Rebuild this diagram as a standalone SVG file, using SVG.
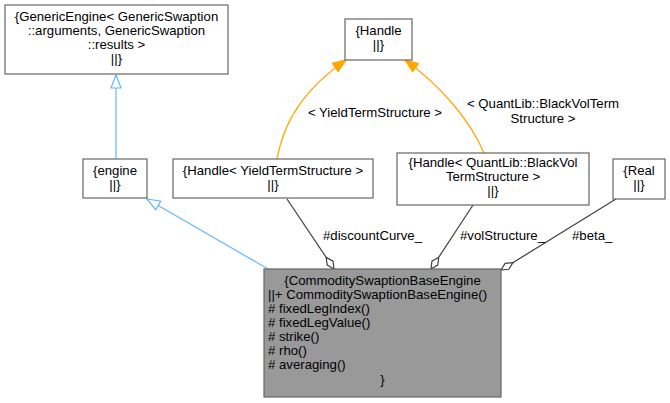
<svg xmlns="http://www.w3.org/2000/svg" width="670" height="403" viewBox="0 0 670 403">
<style>
text{font-family:"Liberation Sans",Arial,sans-serif;font-size:13.2px;fill:#000}
.c{text-anchor:middle}
.box{fill:#fff;stroke:#666;stroke-width:1.2}
.main{fill:#999;stroke:#666;stroke-width:1.2}
.inh{fill:none;stroke:#63b8ff;stroke-width:1.2}
.tpl{fill:none;stroke:#ffa500;stroke-width:1.2}
.use{fill:none;stroke:#404040;stroke-width:1.2}
</style>
<defs>
<marker id="tri" markerUnits="userSpaceOnUse" viewBox="0 0 15 12" refX="14" refY="6" markerWidth="15" markerHeight="12" orient="auto">
<path d="M1,1 L14,6 L1,11 Z" fill="#fff" stroke="#63b8ff" stroke-width="1.2"/>
</marker>
<marker id="arr" markerUnits="userSpaceOnUse" viewBox="0 0 15 12" refX="14" refY="6" markerWidth="15" markerHeight="12" orient="auto">
<path d="M1,1 L14,6 L1,11 Z" fill="#ffa500" stroke="#ffa500" stroke-width="1.2"/>
</marker>
<marker id="dia" markerUnits="userSpaceOnUse" viewBox="0 0 16 10" refX="15" refY="5" markerWidth="16" markerHeight="10" orient="auto">
<path d="M1,5 L8,1.5 L15,5 L8,8.5 Z" fill="#fff" stroke="#404040" stroke-width="1.2"/>
</marker>
</defs>
<g id="edges">
<path class="inh" d="M116,159 L116,75" marker-end="url(#tri)"/>
<path class="inh" d="M268,269 L147,199" marker-end="url(#tri)"/>
<path class="tpl" d="M277,159 C285,115 310,85 346,60" marker-end="url(#arr)"/>
<path class="tpl" d="M484,153 C470,120 440,85 405,60" marker-end="url(#arr)"/>
<path class="use" d="M287,199 L334,269" marker-end="url(#dia)"/>
<path class="use" d="M473,205 L431,269" marker-end="url(#dia)"/>
<path class="use" d="M616,199 L501,270" marker-end="url(#dia)"/>
<text class="c" x="375" y="117">&lt; YieldTermStructure &gt;</text>
<text class="c" x="543" y="108">&lt; QuantLib::BlackVolTerm</text>
<text class="c" x="543" y="123">Structure &gt;</text>
<text x="323" y="240">#discountCurve_</text>
<text x="460" y="240">#volStructure_</text>
<text x="572" y="240">#beta_</text>
</g>
<g id="node-genericengine">
<rect class="box" x="5" y="5" width="223" height="69"/>
<text class="c" x="116.5" y="21">{GenericEngine&lt; GenericSwaption</text>
<text class="c" x="116.5" y="35">::arguments, GenericSwaption</text>
<text class="c" x="116.5" y="49">::results &gt;</text>
<text class="c" x="116.5" y="63">||}</text>
</g>
<g id="node-handle">
<rect class="box" x="345" y="19" width="67" height="41"/>
<text class="c" x="378.5" y="35">{Handle</text>
<text class="c" x="378.5" y="49">||}</text>
</g>
<g id="node-engine">
<rect class="box" x="83" y="159" width="64" height="39"/>
<text class="c" x="115" y="175">{engine</text>
<text class="c" x="115" y="189">||}</text>
</g>
<g id="node-handle-yield">
<rect class="box" x="173" y="159" width="200" height="39"/>
<text class="c" x="273" y="175">{Handle&lt; YieldTermStructure &gt;</text>
<text class="c" x="273" y="189">||}</text>
</g>
<g id="node-handle-blackvol">
<rect class="box" x="397" y="153" width="192" height="52"/>
<text class="c" x="493" y="167">{Handle&lt; QuantLib::BlackVol</text>
<text class="c" x="493" y="181">TermStructure &gt;</text>
<text class="c" x="493" y="195">||}</text>
</g>
<g id="node-real">
<rect class="box" x="613" y="159" width="52" height="40"/>
<text class="c" x="639" y="175">{Real</text>
<text class="c" x="639" y="189">||}</text>
</g>
<g id="node-main">
<rect class="main" x="264" y="269" width="237" height="128"/>
<text class="c" x="382.5" y="285">{CommoditySwaptionBaseEngine</text>
<text x="268" y="299">||+ CommoditySwaptionBaseEngine()</text>
<text x="268" y="313"># fixedLegIndex()</text>
<text x="268" y="327"># fixedLegValue()</text>
<text x="268" y="341"># strike()</text>
<text x="268" y="355"># rho()</text>
<text x="268" y="369"># averaging()</text>
<text class="c" x="382.5" y="384">}</text>
</g>
</svg>
